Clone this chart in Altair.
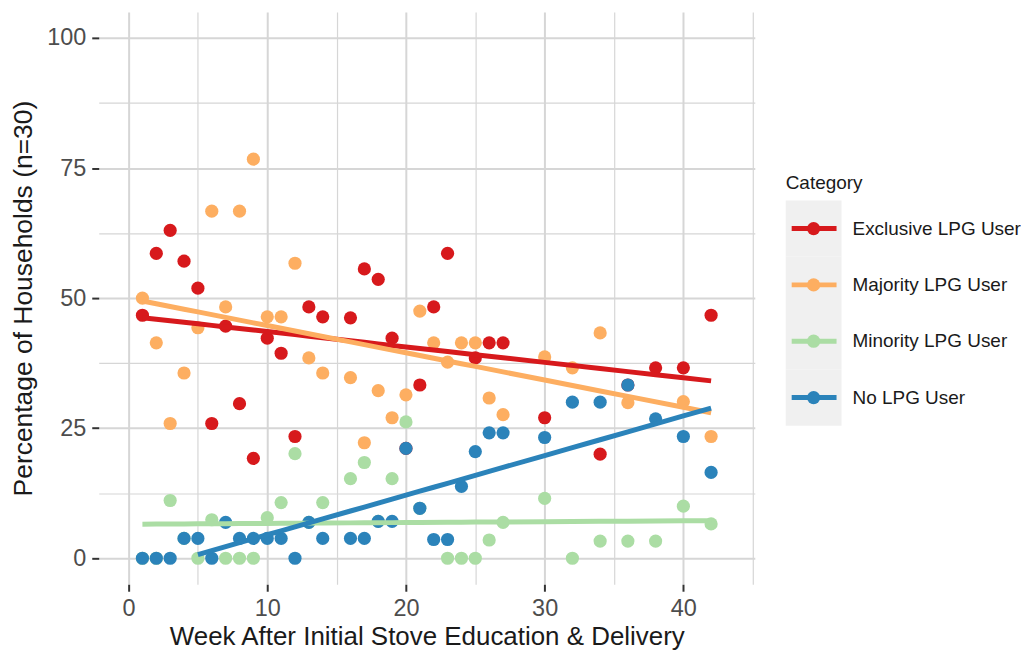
import altair as alt
import pandas as pd

categories = ["Exclusive LPG User", "Majority LPG User", "Minority LPG User", "No LPG User"]
colors = ["#d7191c", "#fdae61", "#abdda4", "#2b83ba"]

excl_weeks = [1, 2, 3, 4, 5, 6, 7, 8, 9, 10, 11, 12, 13, 14, 16, 17, 18, 19, 20, 21, 22, 23, 25, 26, 27, 30, 34, 36, 38, 40, 42]
excl_pct = [46.7, 58.6, 63.0, 57.1, 51.9, 25.9, 44.6, 29.7, 19.2, 42.3, 39.4, 23.4, 48.3, 46.4, 46.2, 55.6, 53.6, 42.3, 21.1, 33.3, 48.3, 58.6, 38.5, 41.4, 41.4, 27.0, 20.0, 33.3, 36.6, 36.6, 46.7]

maj_weeks = [1, 2, 3, 4, 5, 6, 7, 8, 9, 10, 11, 12, 13, 14, 16, 17, 18, 19, 20, 21, 22, 23, 24, 25, 26, 27, 30, 32, 34, 36, 40, 42]
maj_pct = [50.0, 41.4, 25.9, 35.6, 44.3, 66.7, 48.3, 66.7, 76.7, 46.4, 46.4, 56.7, 38.5, 35.6, 34.7, 22.2, 32.2, 27.0, 31.4, 47.5, 41.4, 37.7, 41.4, 41.4, 30.8, 27.6, 38.7, 36.6, 43.3, 29.9, 30.1, 23.4]

min_weeks = [1, 2, 3, 4, 5, 6, 7, 8, 9, 10, 11, 12, 13, 14, 16, 17, 18, 19, 20, 21, 23, 24, 25, 26, 27, 30, 32, 34, 36, 38, 40, 42]
min_pct = [0.0, 0.0, 11.1, 3.8, 0.0, 7.4, 0.0, 0.0, 0.0, 7.8, 10.7, 20.1, 6.9, 10.7, 15.3, 18.4, 7.1, 15.3, 26.2, 9.6, 0.0, 0.0, 0.0, 3.5, 6.9, 11.5, 0.0, 3.3, 3.3, 3.3, 10.0, 6.6]

no_weeks = [1, 2, 3, 4, 5, 6, 7, 8, 9, 10, 11, 12, 13, 14, 16, 17, 18, 19, 20, 21, 22, 23, 24, 25, 26, 27, 30, 32, 34, 36, 38, 40, 42]
no_pct = [0.0, 0.0, 0.0, 3.8, 3.8, 0.0, 6.9, 3.8, 3.8, 3.8, 3.8, 0.0, 6.9, 3.8, 3.8, 3.8, 7.1, 7.1, 21.1, 9.6, 3.6, 3.6, 13.8, 20.5, 24.1, 24.1, 23.2, 30.0, 30.0, 33.3, 26.8, 23.4, 16.5]

x_ticks = [0, 5, 10, 15, 20, 25, 30, 35, 40, 45]
y_ticks = [0, 12.5, 25, 37.5, 50, 62.5, 75, 87.5, 100]

rows = []
for cat, wk, pc in zip(categories,
                       [excl_weeks, maj_weeks, min_weeks, no_weeks],
                       [excl_pct, maj_pct, min_pct, no_pct]):
    for w, p in zip(wk, pc):
        rows.append({"week": w, "pct": p, "category": cat})
df = pd.DataFrame(rows)

FONT = "Liberation Sans"

color = alt.Color("category:N", scale=alt.Scale(domain=categories, range=colors), legend=None)

x_axis = alt.Axis(
    values=x_ticks,
    title="Week After Initial Stove Education & Delivery",
    labelExpr="datum.value % 10 === 0 ? format(datum.value, 'd') : ''",
    gridWidth={"condition": {"test": "datum.value % 10 === 0", "value": 2}, "value": 1.2},
    gridColor="#d6d6d6",
    tickOpacity={"condition": {"test": "datum.value % 10 === 0", "value": 1}, "value": 0},
    tickColor="#333333", tickWidth=2, tickSize=7,
    labelPadding=5, labelFontSize=23.5, labelColor="#4d4d4d", labelFont=FONT,
    labelFlush=False, labelOverlap=False,
    titleFontSize=26, titleFont=FONT, titleColor="#1a1a1a", titleFontWeight="normal",
    titlePadding=4, domain=False,
)
y_axis = alt.Axis(
    values=y_ticks,
    title="Percentage of Households (n=30)",
    labelExpr="datum.value % 25 === 0 ? format(datum.value, 'd') : ''",
    gridWidth={"condition": {"test": "datum.value % 25 === 0", "value": 2}, "value": 1.2},
    gridColor="#d6d6d6",
    tickOpacity={"condition": {"test": "datum.value % 25 === 0", "value": 1}, "value": 0},
    tickColor="#333333", tickWidth=2, tickSize=7,
    labelPadding=6, labelFontSize=23.5, labelColor="#4d4d4d", labelFont=FONT,
    labelOverlap=False,
    titleFontSize=26.5, titleFont=FONT, titleColor="#1a1a1a", titleFontWeight="normal",
    titlePadding=9, domain=False,
)

x_enc = alt.X("week:Q", scale=alt.Scale(domain=[-2.15, 45.15], nice=False, zero=False), axis=x_axis)

points = alt.Chart(df).mark_circle(size=175, opacity=1).encode(
    x=x_enc,
    y=alt.Y("pct:Q", scale=alt.Scale(domain=[-5, 105], nice=False), axis=y_axis),
    color=color,
)

lines = alt.Chart(df).transform_joinaggregate(
    mx="mean(week)", my="mean(pct)", groupby=["category"]
).transform_calculate(
    dxy="(datum.week - datum.mx) * (datum.pct - datum.my)",
    dxx="(datum.week - datum.mx) * (datum.week - datum.mx)",
).transform_joinaggregate(
    sxy="sum(dxy)", sxx="sum(dxx)", groupby=["category"]
).transform_calculate(
    fit="datum.my + datum.sxy / datum.sxx * (datum.week - datum.mx)"
).transform_filter("datum.fit >= 0").mark_line(strokeWidth=5).encode(
    x="week:Q",
    y="fit:Q",
    color=color,
)

main = alt.layer(points, lines).properties(width=658, height=574)

# legend panel
leg_df = pd.DataFrame({"category": categories})
yl = alt.Y("category:N",
           scale=alt.Scale(domain=categories, paddingInner=0, paddingOuter=0, range=[189, 415]),
           axis=None)
leg_base = alt.Chart(leg_df)
leg_bg = leg_base.mark_rect(color="#f0f0f0").encode(y=yl, x=alt.value(0), x2=alt.value(56))
leg_rule = leg_base.mark_rule(strokeWidth=5).encode(y=yl, x=alt.value(6), x2=alt.value(51), color=color)
leg_dot = leg_base.mark_circle(size=175, opacity=1).encode(y=yl, x=alt.value(28), color=color)
leg_txt = leg_base.mark_text(align="left", baseline="middle", fontSize=19, font=FONT, color="#1a1a1a").encode(
    y=yl, x=alt.value(67), text="category:N")
leg_title = alt.Chart(pd.DataFrame({"t": ["Category"]})).mark_text(
    align="left", baseline="middle", fontSize=19, font=FONT, color="#1a1a1a"
).encode(text="t:N", x=alt.value(0), y=alt.value(172))

legend = alt.layer(leg_bg, leg_rule, leg_dot, leg_txt, leg_title).properties(width=220, height=574)

chart = alt.hconcat(main, legend, spacing=31).properties(
    padding={"left": 2, "top": 3, "right": 0, "bottom": 0},
    background="white",
).configure_view(stroke=None)

chart.save("out.html", embed_options={"renderer": "svg", "actions": False})
